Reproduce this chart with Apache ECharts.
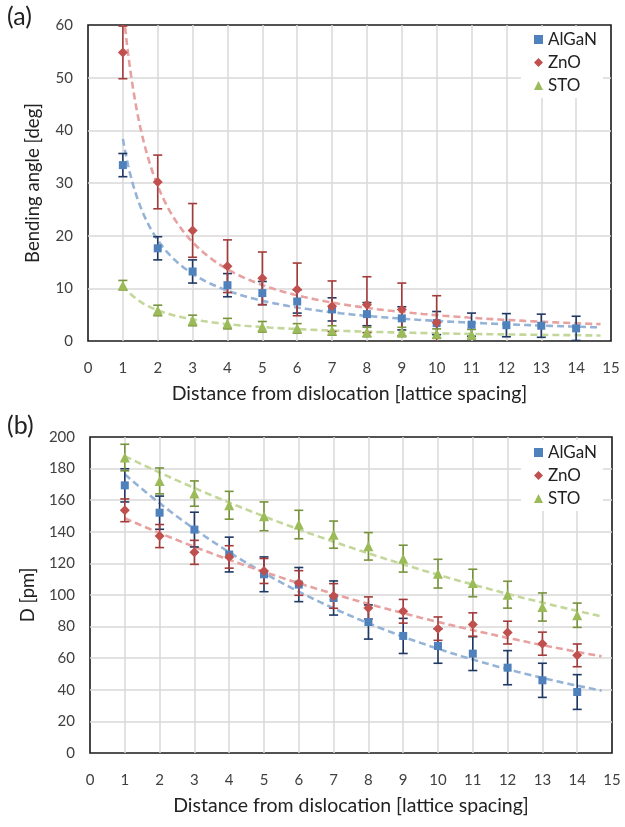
<!DOCTYPE html>
<html>
<head>
<meta charset="utf-8">
<script src="https://cdn.jsdelivr.net/npm/echarts@6/dist/echarts.min.js"></script>
<style>html,body{margin:0;padding:0;background:#fff}#c{width:625px;height:827px}</style>
</head>
<body>
<div id="c"></div>
<script>
// ---- Data ----
const xTicks = [0,1,2,3,4,5,6,7,8,9,10,11,12,13,14,15];
const dist = [1,2,3,4,5,6,7,8,9,10,11,12,13,14];

// (a) Bending angle [deg]
const alganAngle    = [33.4,17.6,13.2,10.6,9.1,7.5,6.0,5.1,4.3,3.4,3.1,3.0,2.9,2.4];
const alganAngleErr = [2.2,2.2,2.2,2.2,2.2,2.2,2.2,2.2,2.2,2.2,2.2,2.2,2.2,2.3];
const znoAngle      = [54.8,30.2,21.0,14.2,11.9,9.8,6.6,6.9,6.0,3.5];
const znoAngleErr   = [5.0,5.1,5.1,5.0,5.0,5.0,4.8,5.3,5.0,5.1];
const stoAngle      = [10.6,5.8,3.9,3.3,2.7,2.4,2.0,1.7,1.7,1.4,1.3];
const stoAngleErr   = [0.9,1.0,1.0,1.0,1.0,0.9,0.9,0.9,0.9,0.9,0.9];

// (b) D [pm]
const alganD    = [169.4,152.1,141.4,125.6,113.1,106.6,98.1,82.9,74.1,67.7,62.9,54.0,46.0,38.6];
const alganDErr = [10.5,10.5,11.0,11.0,11.0,10.8,10.8,10.8,11.1,10.9,10.7,10.8,10.8,11.0];
const znoD      = [153.6,137.3,127.0,124.1,115.2,107.6,99.4,91.8,89.7,78.7,81.3,76.2,69.2,61.8];
const znoDErr   = [7.2,7.3,7.6,7.1,7.9,7.8,7.8,7.0,7.5,7.4,7.4,7.2,7.3,7.2];
const stoD      = [187.0,172.2,164.2,156.8,149.8,144.6,138.2,130.8,123.0,113.5,107.6,100.2,92.4,87.2];
const stoDErr   = [8.4,8.2,8.0,8.8,9.1,9.0,8.6,8.7,8.5,9.1,8.7,8.5,8.9,7.7];

const trendEnd = 14.7;

// ---- Styling ----
const FONT = 'Lato';
const C = {
  AlGaN: {m:'#4f81bd', e:'#1f3864', t:'#95b3d7', sym:'rect', size:8},
  ZnO:   {m:'#c0504d', e:'#a33b3a', t:'#e6a1a0', sym:'diamond', size:10},
  STO:   {m:'#9bbb59', e:'#77933c', t:'#c4d79b', sym:'triangle', size:10}
};

// ---- Trendlines: least-squares fits of the data (as the original spreadsheet did) ----
function linReg(xv, yv){
  const n = xv.length;
  let mx=0,my=0; for(let i=0;i<n;i++){mx+=xv[i];my+=yv[i];} mx/=n; my/=n;
  let sxy=0,sxx=0; for(let i=0;i<n;i++){sxy+=(xv[i]-mx)*(yv[i]-my); sxx+=(xv[i]-mx)*(xv[i]-mx);}
  const b = sxy/sxx; return {b:b, a:my-b*mx};
}
function powerTrend(ys){
  const xv = dist.slice(0, ys.length);
  const r = linReg(xv.map(Math.log), ys.map(Math.log));
  const pts=[]; for(let x=1;x<=trendEnd+1e-9;x+=0.05){pts.push([x, Math.exp(r.a)*Math.pow(x, r.b)]);} return pts;
}
function expTrend(ys){
  const xv = dist.slice(0, ys.length);
  const r = linReg(xv, ys.map(Math.log));
  const pts=[]; for(let x=1;x<=trendEnd+1e-9;x+=0.05){pts.push([x, Math.exp(r.a + r.b*x)]);} return pts;
}

function errData(ys, es){ return ys.map((v,i)=>[dist[i], v-es[i], v+es[i]]); }
function ptData(ys){ return ys.map((v,i)=>[dist[i], v]); }

function errSeries(name, ys, es, gi){
  const col = C[name].e;
  return {
    type:'custom', name: name+' error', xAxisIndex:gi, yAxisIndex:gi, z:3, clip:true,
    silent:true,
    encode:{x:0, y:[1,2]},
    data: errData(ys, es),
    renderItem: function(params, api){
      const x = api.value(0), lo = api.value(1), hi = api.value(2);
      const p1 = api.coord([x, lo]), p2 = api.coord([x, hi]);
      const w = 4.5;
      const st = {stroke: col, lineWidth: 1.6, fill: null};
      return {type:'group', children:[
        {type:'line', shape:{x1:p1[0],y1:p1[1],x2:p2[0],y2:p2[1]}, style:st},
        {type:'line', shape:{x1:p1[0]-w,y1:p1[1],x2:p1[0]+w,y2:p1[1]}, style:st},
        {type:'line', shape:{x1:p2[0]-w,y1:p2[1],x2:p2[0]+w,y2:p2[1]}, style:st}
      ]};
    }
  };
}
function trendSeries(name, pts, gi){
  return {type:'line', name:name+' trend', xAxisIndex:gi, yAxisIndex:gi, data:pts, showSymbol:false,
    symbol:'none', z:2, silent:true, clip:true,
    lineStyle:{color:C[name].t, width:2.6, type:[7,4]}};
}
function ptSeries(name, ys, gi){
  return {type:'scatter', name:name, xAxisIndex:gi, yAxisIndex:gi, data:ptData(ys), z:4,
    symbol:C[name].sym, symbolSize:C[name].size, itemStyle:{color:C[name].m, opacity:1}};
}

const axisText = {fontFamily:FONT, fontSize:15, color:'#404040'};
const xNameText = {fontFamily:FONT, fontSize:19.5, color:'#222'};
const yNameText = {fontFamily:FONT, fontSize:18.5, color:'#222'};
const split = {show:true, showMinLine:false, showMaxLine:false, lineStyle:{color:'#d9d9d9', width:1.5}};

function xAx(gi){
  return {type:'value', gridIndex:gi, min:0, max:15, interval:1,
    axisLine:{show:false}, axisTick:{show:false},
    axisLabel:Object.assign({margin:20}, axisText),
    splitLine:split,
    name:'Distance from dislocation [lattice spacing]', nameLocation:'middle', nameGap:43,
    nameTextStyle:xNameText};
}
function yAx(gi, max, interval, name){
  return {type:'value', gridIndex:gi, min:0, max:max, interval:interval,
    axisLine:{show:false}, axisTick:{show:false},
    axisLabel:Object.assign({margin:15}, axisText),
    splitLine:split,
    name:name, nameLocation:'middle', nameGap:45, nameTextStyle:yNameText};
}
function legend(top){
  return {orient:'vertical', left:521, top:top, padding:[4,6,4,13], itemGap:6,
    backgroundColor:'#fff', itemWidth:9, itemHeight:9,
    data:['AlGaN','ZnO','STO'],
    textStyle:{fontFamily:FONT, fontSize:17, color:'#222'}};
}

const chart = echarts.init(document.getElementById('c'), null, {renderer:'canvas'});
chart.setOption({
  animation:false,
  backgroundColor:'#fff',
  grid:[
    {left:88, top:25, width:523, height:316, show:true, borderColor:'#1a1a1a', borderWidth:1.6, backgroundColor:'transparent'},
    {left:90, top:437, width:522, height:316, show:true, borderColor:'#1a1a1a', borderWidth:1.6, backgroundColor:'transparent'}
  ],
  xAxis:[xAx(0), xAx(1)],
  yAxis:[yAx(0,60,10,'Bending angle [deg]'), yAx(1,200,20,'D [pm]')],
  legend:[legend(27), legend(440)],
  graphic:[
    {type:'text', left:7, top:4, style:{text:'(a)', fontFamily:FONT, fontSize:25, fill:'#222'}},
    {type:'text', left:7, top:413, style:{text:'(b)', fontFamily:FONT, fontSize:25, fill:'#222'}}
  ],
  series:[
    trendSeries('AlGaN', powerTrend(alganAngle), 0),
    trendSeries('ZnO', powerTrend(znoAngle), 0),
    trendSeries('STO', powerTrend(stoAngle), 0),
    errSeries('AlGaN', alganAngle, alganAngleErr, 0),
    errSeries('ZnO', znoAngle, znoAngleErr, 0),
    errSeries('STO', stoAngle, stoAngleErr, 0),
    ptSeries('AlGaN', alganAngle, 0),
    ptSeries('ZnO', znoAngle, 0),
    ptSeries('STO', stoAngle, 0),

    trendSeries('AlGaN', expTrend(alganD), 1),
    trendSeries('ZnO', expTrend(znoD), 1),
    trendSeries('STO', expTrend(stoD), 1),
    errSeries('AlGaN', alganD, alganDErr, 1),
    errSeries('ZnO', znoD, znoDErr, 1),
    errSeries('STO', stoD, stoDErr, 1),
    ptSeries('AlGaN', alganD, 1),
    ptSeries('ZnO', znoD, 1),
    ptSeries('STO', stoD, 1)
  ]
});
</script>
</body>
</html>
